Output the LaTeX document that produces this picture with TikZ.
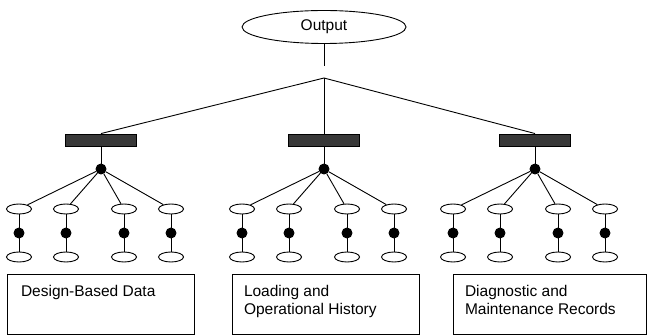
\documentclass[tikz,border=0pt]{standalone}
\usepackage{fontspec}
\setmainfont{Liberation Sans}
\usetikzlibrary{shapes.geometric}
\begin{document}
\begin{tikzpicture}[x=1pt,y=-1pt,
  line width=0.9pt,
  bigell/.style={draw, ellipse, minimum width=164pt, minimum height=33pt, inner sep=0pt, font=\fontsize{15.5}{18}\selectfont},
  bar/.style={draw, fill=black!78, rectangle, minimum width=71pt, minimum height=12pt, inner sep=0pt},
  dot/.style={draw, fill=black, circle, minimum size=10pt, inner sep=0pt},
  smell/.style={draw, fill=white, ellipse, minimum width=25pt, minimum height=10pt, inner sep=0pt},
  srcbox/.style={draw, rectangle, minimum height=60pt, inner sep=0pt},
  srctext/.style={anchor=north west, align=left, inner sep=0pt, font=\fontsize{15.5}{18.5}\selectfont}
]
\useasboundingbox (0,0) rectangle (647,336);
\node[bigell] (out) at (324,27) {Output};
\coordinate (outend) at (324,66);
\coordinate (apex) at (324,78);
\draw (out.south) -- (outend);

\foreach \g/\cx in {L/101,M/324,R/535}{
  \node[bar] (bar\g) at (\cx,140) {};
  \node[dot] (hub\g) at (\cx,169) {};
  \draw (apex) -- (bar\g.north);
  \draw (bar\g.south) -- (hub\g);
  \foreach \i/\dx in {1/-82,2/-35,3/23,4/70}{
    \node[smell] (t\g\i) at (\cx+\dx,209) {};
    \node[dot] (d\g\i) at (\cx+\dx,233) {};
    \node[smell] (b\g\i) at (\cx+\dx,257) {};
    \draw (hub\g) -- (t\g\i);
    \draw (t\g\i) -- (d\g\i) -- (b\g\i);
  }
}

\node[srcbox, minimum width=187pt] (box1) at (100.5,304) {};
\node[srcbox, minimum width=187pt] (box2) at (325.5,304) {};
\node[srcbox, minimum width=193pt] (box3) at (549.5,304) {};
\node[srctext] (txt1) at ([xshift=14pt,yshift=-11pt]box1.north west) {Design-Based Data};
\node[srctext] (txt2) at ([xshift=12pt,yshift=-11pt]box2.north west) {Loading and\\Operational History};
\node[srctext] (txt3) at ([xshift=12pt,yshift=-11pt]box3.north west) {Diagnostic and\\Maintenance Records};
\end{tikzpicture}
\end{document}
